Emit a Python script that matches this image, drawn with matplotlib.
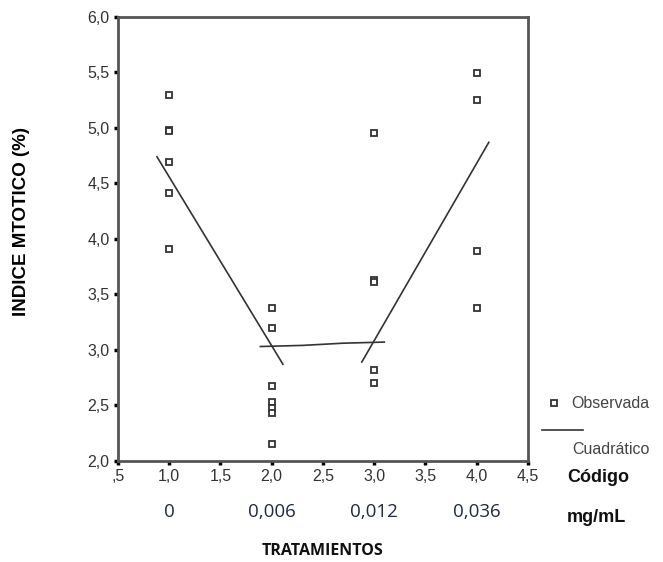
import matplotlib.pyplot as plt
from matplotlib.lines import Line2D
from matplotlib.ticker import FuncFormatter

# observed values per treatment code
x_obs = [1, 1, 1, 1, 1, 1,
         2, 2, 2, 2, 2, 2, 2,
         3, 3, 3, 3, 3,
         4, 4, 4, 4]
y_obs = [5.30, 4.98, 4.97, 4.69, 4.41, 3.91,
         3.38, 3.20, 2.67, 2.53, 2.48, 2.43, 2.15,
         4.95, 3.63, 3.61, 2.82, 2.70,
         5.49, 5.25, 3.89, 3.38]

# quadratic fit as drawn (three pieces)
fit_x = [[0.88, 2.11], [1.89, 2.30, 2.70, 3.10], [2.88, 4.12]]
fit_y = [[4.74, 2.87], [3.03, 3.04, 3.06, 3.07], [2.89, 4.87]]

codes = [1, 2, 3, 4]
doses = ['0', '0,006', '0,012', '0,036']

plt.rcParams['font.family'] = ['Liberation Sans', 'DejaVu Sans']

W, H = 663, 562
fig = plt.figure(figsize=(W / 100, H / 100), dpi=100)
ax = fig.add_axes([0.178, 0.180, 0.618, 0.790])

ax.plot(x_obs, y_obs, 's', ms=5, mfc='white', mec='#333333', mew=1.3,
        linestyle='none')
for i in range(len(fit_x)):
    ax.plot(fit_x[i], fit_y[i], color='#333333', lw=1.2)

ax.set_xlim(0.5, 4.5)
ax.set_ylim(2.0, 6.0)
ax.set_xticks([0.5, 1, 1.5, 2, 2.5, 3, 3.5, 4, 4.5])
ax.set_yticks([2, 2.5, 3, 3.5, 4, 4.5, 5, 5.5, 6])

def fmt(v, pos):
    s = f'{v:.1f}'.replace('.', ',')
    if s.startswith('0'):
        s = s[1:]
    return s

ax.xaxis.set_major_formatter(FuncFormatter(fmt))
ax.yaxis.set_major_formatter(FuncFormatter(fmt))
ax.tick_params(direction='out', length=3, width=2.5, color='black',
               labelsize=11.5, labelcolor='#333333', pad=3)
for sp in ax.spines.values():
    sp.set_color('#555555')
    sp.set_linewidth(2)

ax.set_ylabel('INDICE MTOTICO (%)', fontsize=13.5, fontweight='bold')
ax.yaxis.set_label_coords(-0.215, 0.54)

# dose labels under the codes
for c, d in zip(codes, doses):
    ax.text(c, -0.115, d, transform=ax.get_xaxis_transform(), ha='center',
            va='center', fontsize=13.5, color='#1f2a44',
            family=['Open Sans', 'DejaVu Sans'])
fig.text(567 / W, 1 - 477 / H, 'Código', ha='left', va='center', fontsize=13,
         fontweight='bold', color='#111111')
fig.text(567 / W, 1 - 517 / H, 'mg/mL', ha='left', va='center', fontsize=13,
         fontweight='bold', color='#111111')
fig.text(323 / W, 1 - 551 / H, 'TRATAMIENTOS', ha='center', va='center', fontsize=11.5,
         fontweight='bold', color='#111111', family=['Open Sans', 'DejaVu Sans'])

# legend, laid out by hand like the original
fig.add_artist(Line2D([554 / W], [1 - 403 / H], marker='s', ms=5, mfc='white',
                      mec='#333333', mew=1.3, linestyle='none'))
fig.text(571 / W, 1 - 404 / H, 'Observada', ha='left', va='center',
         fontsize=11.5, color='#444444')
fig.add_artist(Line2D([542 / W, 583 / W], [1 - 430 / H, 1 - 430 / H],
                      color='#333333', lw=1.2))
fig.text(572 / W, 1 - 449 / H, 'Cuadrático', ha='left', va='center',
         fontsize=11.5, color='#444444')

fig.savefig('out.png', dpi=100)
